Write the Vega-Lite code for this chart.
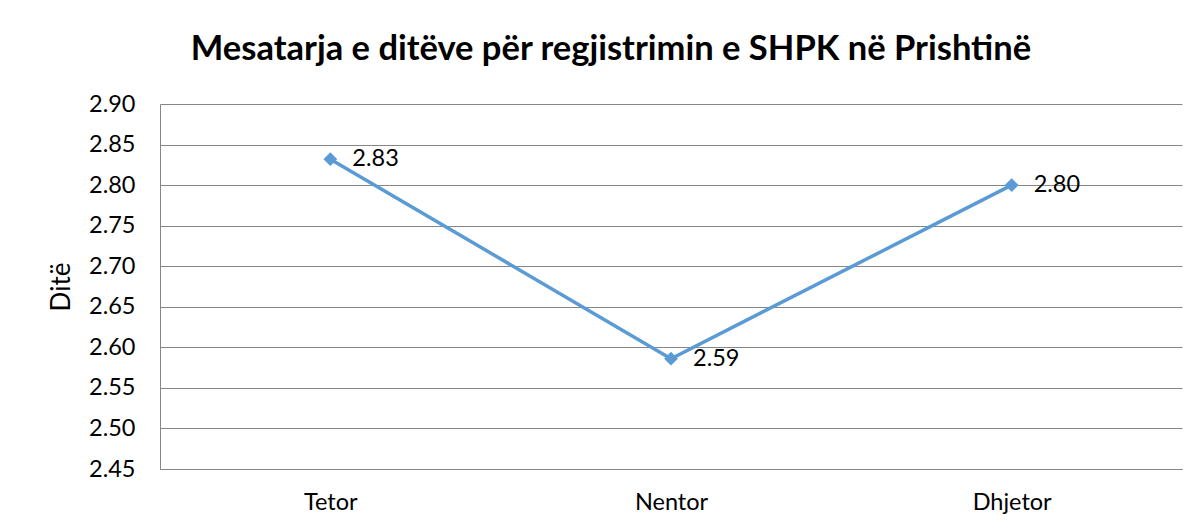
{
  "$schema": "https://vega.github.io/schema/vega-lite/v6.json",
  "width": 1022,
  "height": 365,
  "autosize": {"type": "none"},
  "padding": {"left": 160, "top": 104, "right": 16, "bottom": 60},
  "background": "white",
  "config": {"view": {"stroke": null}, "font": "Lato"},
  "title": {
    "text": "Mesatarja e ditëve për regjistrimin e SHPK në Prishtinë",
    "font": "Lato",
    "fontSize": 34.5,
    "fontWeight": "bold",
    "color": "#000000",
    "anchor": "middle",
    "frame": "group",
    "dx": -60,
    "offset": 25
  },
  "data": {
    "values": [
      {"month": "Tetor", "value": 2.832, "label": "2.83"},
      {"month": "Nentor", "value": 2.586, "label": "2.59"},
      {"month": "Dhjetor", "value": 2.800, "label": "2.80"}
    ]
  },
  "encoding": {
    "x": {
      "field": "month",
      "type": "ordinal",
      "sort": null,
      "title": null,
      "axis": {
        "labelAngle": 0,
        "labelFont": "Lato",
        "labelFontSize": 23.5,
        "labelColor": "#000000",
        "labelPadding": 21,
        "ticks": false,
        "grid": false,
        "domainColor": "#868686",
        "domainWidth": 1
      }
    },
    "y": {
      "field": "value",
      "type": "quantitative",
      "title": "Ditë",
      "scale": {"domain": [2.45, 2.9], "nice": false, "zero": false},
      "axis": {
        "values": [2.45, 2.5, 2.55, 2.6, 2.65, 2.7, 2.75, 2.8, 2.85, 2.9],
        "format": ".2f",
        "labelFont": "Lato",
        "labelFontSize": 23.5,
        "labelColor": "#000000",
        "labelPadding": 25,
        "ticks": false,
        "grid": true,
        "gridColor": "#868686",
        "gridWidth": 1,
        "domainColor": "#868686",
        "domainWidth": 1,
        "titleFont": "Lato",
        "titleFontSize": 26,
        "titleFontWeight": "normal",
        "titleColor": "#000000",
        "titlePadding": 14
      }
    }
  },
  "layer": [
    {
      "mark": {
        "type": "line",
        "color": "#5B9BD5",
        "strokeWidth": 3.5,
        "point": {"shape": "diamond", "size": 190, "filled": true, "color": "#5B9BD5", "opacity": 1}
      }
    },
    {
      "mark": {"type": "text", "align": "left", "baseline": "middle", "dx": 22, "fontSize": 23.5, "font": "Lato", "color": "#000000"},
      "encoding": {"text": {"field": "label"}}
    }
  ]
}
